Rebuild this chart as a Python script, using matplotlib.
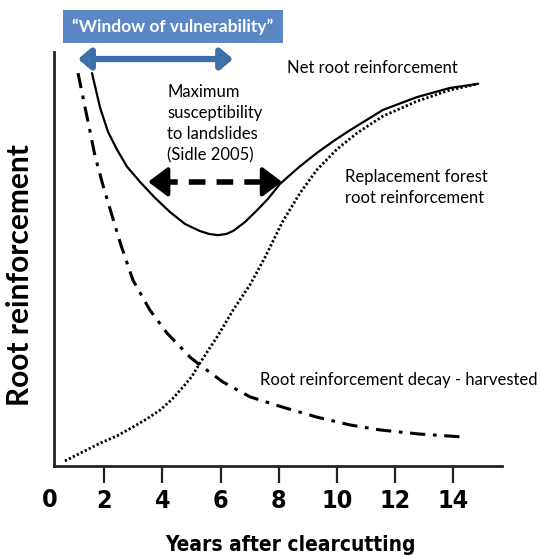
import numpy as np
import matplotlib
matplotlib.use('Agg')
import matplotlib.pyplot as plt
from matplotlib import font_manager
from matplotlib.patches import Rectangle, FancyArrowPatch

# values (years, relative root reinforcement 0..1)
net_x = [1.58, 1.86, 2.13, 2.44, 2.78, 3.23, 3.75, 4.26, 4.78, 5.29, 5.60, 5.91,
         6.20, 6.45, 6.84, 7.29, 7.63, 8.04, 8.70, 9.31, 9.93, 10.45, 11.58, 12.75, 13.88, 14.85]
net_y = [0.949, 0.865, 0.807, 0.764, 0.723, 0.686, 0.647, 0.613, 0.584, 0.567, 0.560, 0.557,
         0.560, 0.568, 0.589, 0.620, 0.645, 0.681, 0.722, 0.756, 0.787, 0.811, 0.860, 0.891, 0.913, 0.923]

repl_x = [0.65, 1.86, 2.45, 2.99, 3.47, 3.92, 4.33, 4.71, 5.02, 5.29, 5.88, 6.43, 7.01, 7.53, 8.14, 8.73,
          9.31, 10.0, 10.69, 11.58, 12.75, 13.88, 14.85]
repl_y = [0.011, 0.054, 0.072, 0.093, 0.113, 0.134, 0.160, 0.190, 0.216, 0.248, 0.311, 0.376, 0.437, 0.504,
          0.591, 0.659, 0.715, 0.765, 0.804, 0.845, 0.881, 0.908, 0.923]

decay_x = [1.10, 1.41, 1.68, 1.96, 2.27, 2.58, 2.99, 3.57, 4.16, 4.95, 5.29, 6.08,
           7.01, 8.14, 9.31, 10.45, 11.48, 12.85, 14.33]
decay_y = [0.949, 0.843, 0.750, 0.677, 0.604, 0.532, 0.448, 0.376, 0.320, 0.262, 0.243, 0.202,
           0.166, 0.141, 0.117, 0.098, 0.086, 0.076, 0.069]

xticks = [2, 4, 6, 8, 10, 12, 14]

# look for a narrow bold face for the axis numbers
narrow_file = None
for f in font_manager.fontManager.ttflist:
    fn = f.fname.lower()
    if ('narrow' in fn or 'condensed' in fn) and 'bold' in fn and 'oblique' not in fn and 'italic' not in fn:
        if narrow_file is None or 'liberation' in fn:
            narrow_file = f.fname
if narrow_file:
    narrow = dict(fontproperties=font_manager.FontProperties(fname=narrow_file))
    nscale = 1.0
else:
    narrow = dict(family='Liberation Sans', fontweight='bold')
    nscale = 0.85

body = ['Lato', 'DejaVu Sans']

fig = plt.figure(figsize=(5.4, 5.55), dpi=100)
ax = fig.add_axes([54/540, 1 - 465.5/555, 448/540, 413.5/555])

ax.plot(net_x, net_y, color='black', lw=1.6, solid_capstyle='round')
ax.plot(repl_x, repl_y, color='black', lw=2.0, linestyle=(0, (0.8, 0.8)))
ax.plot(decay_x, decay_y, color='black', lw=2.2, linestyle=(0, (5, 2.5, 1.2, 2.5)))

ax.set_xlim(0.275, 15.67)
ax.set_ylim(0, 1)
for s in ['top', 'right']:
    ax.spines[s].set_visible(False)
for s in ['left', 'bottom']:
    ax.spines[s].set_linewidth(2)
    ax.spines[s].set_color('#222222')
ax.set_yticks([])
ax.set_xticks(xticks)
ax.set_xticklabels([str(t) for t in xticks])
for lab in ax.get_xticklabels():
    if narrow_file:
        lab.set_fontproperties(font_manager.FontProperties(fname=narrow_file))
    else:
        lab.set_family('Liberation Sans')
        lab.set_fontweight('bold')
    lab.set_fontsize(18 * nscale)
ax.tick_params(axis='x', length=12, width=1.6, color='#222222', pad=5)
t0 = ax.text(0.14, -0.083, '0', transform=ax.get_xaxis_transform(), ha='center', va='center',
             clip_on=False, **narrow)
t0.set_fontsize(18 * nscale)

xl = fig.text(290/540, 1 - 545/555, 'Years after clearcutting', ha='center', va='center', **narrow)
xl.set_fontsize(15 * nscale if narrow_file else 11.5)
fig.text(20/540, 1 - 275/555, 'Root reinforcement', rotation=90, ha='center', va='center',
         family=body, fontweight='bold', fontsize=21.5)

# annotations
ax.text(8.28, 0.961, 'Net root reinforcement', family=body, fontsize=12, ha='left', va='center')
ax.text(4.16, 0.922, 'Maximum\nsusceptibility\nto landslides\n(Sidle 2005)', family=body,
        fontsize=12, ha='left', va='top', linespacing=1.38)
ax.text(10.27, 0.718, 'Replacement forest\nroot reinforcement', family=body, fontsize=12,
        ha='left', va='top', linespacing=1.38)
ax.text(7.35, 0.207, 'Root reinforcement decay - harvested', family=body, fontsize=12,
        ha='left', va='center', clip_on=False)

# dashed double arrow
ya = 0.686
ax.plot([3.95, 7.68], [ya, ya], color='black', lw=4, linestyle=(0, (3, 2)))
for tip, tail in [(3.51, 3.95), (8.11, 7.68)]:
    ax.annotate('', xy=(tip, ya), xytext=(tail, ya),
                arrowprops=dict(arrowstyle='-|>,head_length=0.6,head_width=0.45', color='black', lw=3,
                                shrinkA=0, shrinkB=0, mutation_scale=20))

# window of vulnerability box and blue arrow
fig.patches.append(Rectangle((63/540, 1 - 43/555), 220/540, 33/555, transform=fig.transFigure,
                             facecolor='#5b87c5', edgecolor='none'))
fig.text(173/540, 1 - 27/555, '\u201cWindow of vulnerability\u201d', ha='center', va='center',
         color='white', family=body, fontweight='bold', fontsize=12.5)
arr = FancyArrowPatch((1.10, 0.983), (6.43, 0.983), arrowstyle='<|-|>,head_length=0.45,head_width=0.38',
                      mutation_scale=16, lw=4.5, facecolor='#4f81bd', edgecolor='#3f6fa8',
                      shrinkA=0, shrinkB=0, clip_on=False)
ax.add_patch(arr)

fig.savefig('out.png', dpi=100)
